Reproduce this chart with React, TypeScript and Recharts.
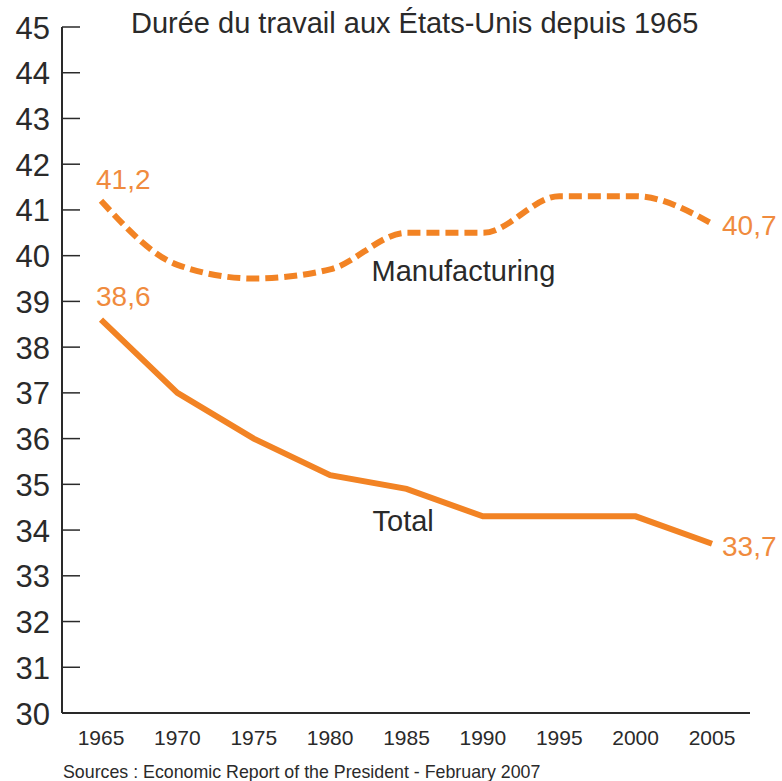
import { LineChart, Line, XAxis, YAxis } from 'recharts'

const years = ['1965', '1970', '1975', '1980', '1985', '1990', '1995', '2000', '2005']
const totalHours = [38.6, 37.0, 36.0, 35.2, 34.9, 34.3, 34.3, 34.3, 33.7]
const manufacturingHours = [41.2, 39.8, 39.5, 39.7, 40.5, 40.5, 41.3, 41.3, 40.7]
const yTicks = [30, 31, 32, 33, 34, 35, 36, 37, 38, 39, 40, 41, 42, 43, 44, 45]

const data = years.map((year, i) => ({
  year,
  total: totalHours[i],
  manufacturing: manufacturingHours[i],
}))

const ORANGE = '#F28324'
const LABEL_ORANGE = '#F08B3E'
const INK = '#2a2a2a'
const FONT = '"Liberation Sans", Arial, sans-serif'

const fmt = (v: number) => v.toFixed(1).replace('.', ',')

function YTick({ x, y, payload }: any) {
  return (
    <g>
      <line x1={x} x2={x + 18} y1={y} y2={y} stroke={INK} strokeWidth={1.5} />
      <text x={x - 12} y={y + 11.5} textAnchor="end" fontSize={31} fill={INK} fontFamily={FONT}>
        {payload.value}
      </text>
    </g>
  )
}

function XTick({ x, y, payload }: any) {
  return (
    <text x={x} y={y + 32} textAnchor="middle" fontSize={21} fill={INK} fontFamily={FONT}>
      {payload.value}
    </text>
  )
}

// end values in orange, series name placed near the 1985 point
function makeLabel(name: string, nameIndex: number, nameDx: number, nameDy: number, firstDy: number, lastDy: number) {
  return (props: any) => {
    const { x, y, index, value } = props
    const last = years.length - 1
    if (index === 0) {
      return (
        <text x={x - 5} y={y + firstDy} fontSize={28} fill={LABEL_ORANGE} fontFamily={FONT}>
          {fmt(value)}
        </text>
      )
    }
    if (index === last) {
      return (
        <text x={x + 10} y={y + lastDy} fontSize={28} fill={LABEL_ORANGE} fontFamily={FONT}>
          {fmt(value)}
        </text>
      )
    }
    if (index === nameIndex) {
      return (
        <text x={x + nameDx} y={y + nameDy} fontSize={29} fill={INK} fontFamily={FONT}>
          {name}
        </text>
      )
    }
    return <g />
  }
}

export default function App() {
  return (
    <div style={{ position: 'absolute', left: 0, top: 0, width: 782, height: 781, background: '#fff' }}>
      <LineChart width={782} height={781} data={data} margin={{ top: 27, right: 32, bottom: 0, left: 0 }}>
        <XAxis
          dataKey="year"
          height={68}
          padding={{ left: 39, right: 38 }}
          axisLine={{ stroke: INK, strokeWidth: 2 }}
          tickLine={false}
          tickSize={0}
          tickMargin={0}
          tick={<XTick />}
          interval={0}
        />
        <YAxis
          width={62}
          domain={[30, 45]}
          ticks={yTicks}
          interval={0}
          axisLine={{ stroke: INK, strokeWidth: 2 }}
          tickLine={false}
          tickSize={0}
          tickMargin={0}
          tick={<YTick />}
        />
        <Line
          type="monotone"
          dataKey="manufacturing"
          stroke={ORANGE}
          strokeWidth={6}
          strokeDasharray="13 6"
          dot={false}
          isAnimationActive={false}
          label={makeLabel('Manufacturing', 4, -35, 48, -12, 11)}
        />
        <Line
          type="linear"
          dataKey="total"
          stroke={ORANGE}
          strokeWidth={6}
          dot={false}
          isAnimationActive={false}
          label={makeLabel('Total', 4, -34, 42, -13.5, 12)}
        />
        <text x={131} y={33} fontSize={29} fill={INK} fontFamily={FONT}>
          Durée du travail aux États-Unis depuis 1965
        </text>
        <text x={63} y={778} fontSize={17.8} fill={INK} fontFamily={FONT}>
          Sources : Economic Report of the President - February 2007
        </text>
      </LineChart>
    </div>
  )
}
